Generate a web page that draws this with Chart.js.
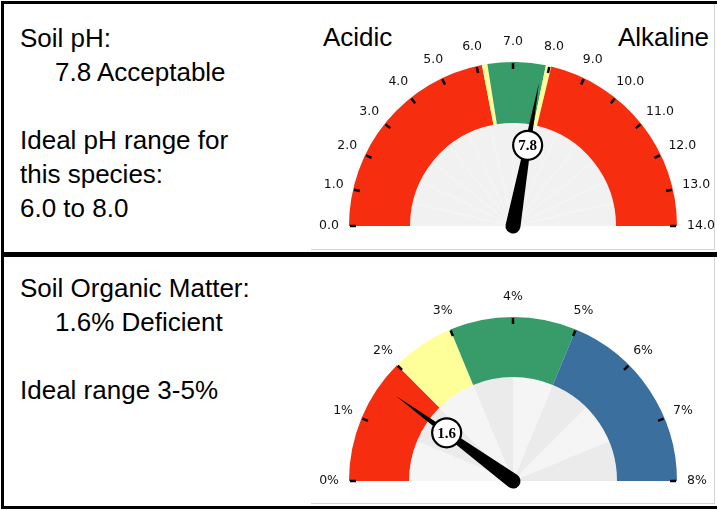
<!DOCTYPE html>
<html>
<head>
<meta charset="utf-8">
<script src="https://cdn.jsdelivr.net/npm/chart.js@4.4.1/dist/chart.umd.min.js"></script>
<style>
    html, body { margin: 0; padding: 0; background: #fff; overflow: hidden; }
    body { width: 717px; height: 510px; position: relative; font-family: "Liberation Sans", Arial, sans-serif; color: #000; }
    .panel { position: absolute; left: 1px; width: 760px; box-sizing: border-box; border: 3px solid #000; }
    .gaugeBox { position: absolute; left: 311px; width: 404px; box-sizing: border-box; border-right: 1px solid #d4d4d4; border-bottom: 1px solid #d4d4d4; }
    .info { position: absolute; left: 20px; font-size: 26px; line-height: 34px; white-space: nowrap; }
    .info .indent { padding-left: 35px; }
    .side { position: absolute; font-size: 26px; line-height: 26px; white-space: nowrap; }
    canvas { position: absolute; }
</style>
</head>
<body>
<div class="panel" style="top:1px; height:254px;"></div>
<div class="panel" style="top:254px; height:255px;"></div>

<div class="gaugeBox" style="top:4px; height:246px;"></div>
<div class="gaugeBox" style="top:257px; height:247px;"></div>

<div class="info" style="top:21px;">
    <div>Soil pH:</div>
    <div class="indent">7.8 Acceptable</div>
    <div>&nbsp;</div>
    <div>Ideal pH range for</div>
    <div>this species:</div>
    <div>6.0 to 8.0</div>
</div>
<div class="info" style="top:271px;">
    <div>Soil Organic Matter:</div>
    <div class="indent">1.6% Deficient</div>
    <div>&nbsp;</div>
    <div>Ideal range 3-5%</div>
</div>

<div class="side" style="left:323px; top:24px;">Acidic</div>
<div class="side" style="left:618px; top:24px;">Alkaline</div>

<canvas id="phGauge" style="left:311px; top:4px;" width="406" height="245"></canvas>
<canvas id="omGauge" style="left:311px; top:257px;" width="406" height="246"></canvas>

<script>
// ---- Soil pH gauge ----
const phBandEnds = [6.15, 6.3, 7.9, 8.05, 14];
const phBandColors = ['#f62e0f', '#ffff99', '#389b6a', '#ffff99', '#f62e0f'];
const phInnerSlices = [1, 1, 1, 1, 1, 1, 1, 1, 1, 1, 1, 1, 1, 1];
const phInnerColors = ['#f1f1f1'];
const phTickValues = [0, 1, 2, 3, 4, 5, 6, 7, 8, 9, 10, 11, 12, 13, 14];
const phTickLabels = ['0.0', '1.0', '2.0', '3.0', '4.0', '5.0', '6.0', '7.0', '8.0', '9.0', '10.0', '11.0', '12.0', '13.0', '14.0'];
const phReading = 7.8;

// ---- Soil organic matter gauge ----
const omBandEnds = [2, 3, 5, 8];
const omBandColors = ['#f62e0f', '#ffff99', '#389b6a', '#3b709e'];
const omInnerSlices = [1, 1, 1, 1, 1, 1, 1, 1];
const omInnerColors = ['#f5f5f5', '#ebebeb'];
const omTickValues = [0, 1, 2, 3, 4, 5, 6, 7, 8];
const omTickLabels = ['0%', '1%', '2%', '3%', '4%', '5%', '6%', '7%', '8%'];
const omReading = 1.6;

// turn band upper limits into slice sizes
function bandSizes(ends) {
    return ends.map(function(e, i) { return e - (i ? ends[i - 1] : 0); });
}

// ticks, tick labels, needle and value bubble
const gaugeDecor = {
    id: 'gaugeDecor',
    afterDatasetsDraw: function(chart, args, opts) {
        const ctx = chart.ctx;
        const arcs = chart.getDatasetMeta(0).data;
        const first = arcs[0];
        const last = arcs[arcs.length - 1];
        const cx = first.x, cy = first.y, R = first.outerRadius;
        const a0 = first.startAngle, a1 = last.endAngle;
        const toAngle = function(v) { return a0 + (v - opts.min) / (opts.max - opts.min) * (a1 - a0); };

        ctx.save();
        ctx.font = '12.5px "DejaVu Sans", sans-serif';
        ctx.textAlign = 'center';
        ctx.textBaseline = 'middle';
        opts.ticks.forEach(function(v, i) {
            const a = toAngle(v);
            const c = Math.cos(a), s = Math.sin(a);
            ctx.strokeStyle = '#000';
            ctx.lineWidth = 2.5;
            ctx.beginPath();
            ctx.moveTo(cx + c * (R - 1), cy + s * (R - 1));
            ctx.lineTo(cx + c * (R - 7), cy + s * (R - 7));
            ctx.stroke();

            const label = opts.labels[i];
            const w = ctx.measureText(label).width;
            ctx.fillStyle = '#111';
            ctx.fillText(label, cx + c * (opts.labelR + w / 2), cy + s * (opts.labelR + 10));
        });

        // needle
        const a = toAngle(opts.value);
        const c = Math.cos(a), s = Math.sin(a);
        ctx.fillStyle = '#000';
        ctx.beginPath();
        ctx.arc(cx, cy, 7.5, a + Math.PI / 2, a + Math.PI * 1.5);
        ctx.lineTo(cx + c * 145, cy + s * 145);
        ctx.closePath();
        ctx.fill();

        // value bubble
        const bx = cx + c * 82, by = cy + s * 82;
        ctx.beginPath();
        ctx.arc(bx, by, 14.5, 0, Math.PI * 2);
        ctx.fillStyle = '#fff';
        ctx.fill();
        ctx.lineWidth = 2.2;
        ctx.strokeStyle = '#000';
        ctx.stroke();
        ctx.fillStyle = '#000';
        ctx.font = 'bold 15px "Liberation Serif", serif';
        ctx.fillText(String(opts.value), bx, by + 1);
        ctx.restore();
    }
};

function makeGauge(id, bandEnds, bandColors, innerSlices, innerColors, innerBorder, ticks, labels, value, padTop, padBottom, ringWeights) {
    const ctx = document.getElementById(id).getContext('2d');
    return new Chart(ctx, {
        type: 'doughnut',
        data: {
            datasets: [{
                data: bandSizes(bandEnds),
                backgroundColor: bandColors,
                borderWidth: 0,
                weight: ringWeights[0]
            }, {
                data: innerSlices,
                backgroundColor: innerSlices.map(function(_, i) { return innerColors[i % innerColors.length]; }),
                borderColor: '#f7f7f7',
                borderWidth: innerBorder,
                weight: ringWeights[1]
            }]
        },
        options: {
            responsive: false,
            animation: false,
            rotation: -90,
            circumference: 180,
            cutout: 0,
            layout: { padding: { left: 38, right: 40, top: padTop, bottom: padBottom } },
            plugins: {
                legend: { display: false },
                tooltip: { enabled: false },
                gaugeDecor: {
                    min: 0,
                    max: bandEnds[bandEnds.length - 1],
                    ticks: ticks,
                    labels: labels,
                    value: value,
                    labelR: 174
                }
            }
        },
        plugins: [gaugeDecor]
    });
}

makeGauge('phGauge', phBandEnds, phBandColors, phInnerSlices, phInnerColors, 0.6,
    phTickValues, phTickLabels, phReading, 58, 23, [61, 103]);
makeGauge('omGauge', omBandEnds, omBandColors, omInnerSlices, omInnerColors, 0,
    omTickValues, omTickLabels, omReading, 60, 22, [60, 104]);
</script>
</body>
</html>
